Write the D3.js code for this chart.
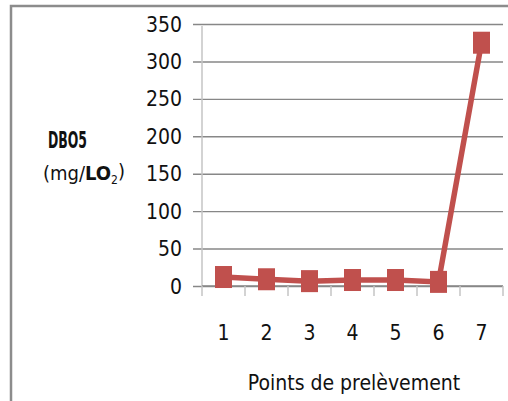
<!DOCTYPE html>
<html>
<head>
<meta charset="utf-8">
<script src="https://cdn.jsdelivr.net/npm/d3@7"></script>
<style>
  body { margin: 0; background: #fff; }
  svg { display: block; }
  text { font-family: "Liberation Sans Narrow", "DejaVu Sans Condensed", "Liberation Sans", sans-serif; fill: #111; }
</style>
</head>
<body>
<svg width="508" height="401"></svg>
<script>
// sampling points and BOD5 values
var points = ["1", "2", "3", "4", "5", "6", "7"];
var dbo5 = [12, 9, 6.5, 8, 8, 5.5, 325];
var yTicks = [0, 50, 100, 150, 200, 250, 300, 350];

var svg = d3.select("svg"),
    width = +svg.attr("width"),
    height = +svg.attr("height");

var x = d3.scaleBand().domain(points).range([202, 503]);
var y = d3.scaleLinear().domain([0, 350]).range([286, 24]);

// outer frame (only left and top edges are visible)
svg.append("path")
    .attr("d", "M11," + height + "V6H" + width)
    .attr("fill", "none")
    .attr("stroke", "#8c8c8c")
    .attr("stroke-width", 2.5);

// gridlines + y ticks
svg.append("g")
    .attr("transform", "translate(202,0)")
    .call(d3.axisLeft(y).tickValues(yTicks).tickSize(-(503 - 202)).tickFormat(""))
    .call(function(g) { g.select(".domain").remove(); })
    .call(function(g) {
        g.selectAll(".tick line")
            .attr("x1", -9)
            .attr("stroke", "#878787")
            .attr("stroke-width", 1.4);
    });

// y tick labels
svg.append("g")
    .selectAll("text")
    .data(yTicks)
    .enter().append("text")
    .attr("x", 182)
    .attr("y", function(d) { return y(d); })
    .attr("dy", "0.36em")
    .attr("text-anchor", "end")
    .style("font-size", "21px")
    .text(function(d) { return d; });

// y axis line
svg.append("line")
    .attr("x1", 202).attr("x2", 202)
    .attr("y1", y(350) + 2).attr("y2", y(0))
    .attr("stroke", "#c4c4c4")
    .attr("stroke-width", 1.5);

// x axis with ticks between categories
var xBounds = points.map(function(p) { return x(p); }).concat([x.range()[1]]);
svg.append("line")
    .attr("x1", 202).attr("x2", 503)
    .attr("y1", y(0)).attr("y2", y(0))
    .attr("stroke", "#878787")
    .attr("stroke-width", 1.5);
svg.append("g")
    .selectAll("line")
    .data(xBounds)
    .enter().append("line")
    .attr("x1", function(d) { return d; })
    .attr("x2", function(d) { return d; })
    .attr("y1", y(0))
    .attr("y2", y(0) + 10)
    .attr("stroke", "#c4c4c4")
    .attr("stroke-width", 1.5);

// x tick labels
svg.append("g")
    .selectAll("text")
    .data(points)
    .enter().append("text")
    .attr("x", function(d) { return x(d) + x.bandwidth() / 2; })
    .attr("y", 332)
    .attr("dy", "0.36em")
    .attr("text-anchor", "middle")
    .style("font-size", "21px")
    .text(function(d) { return d; });

// axis titles
svg.append("text")
    .attr("x", 354)
    .attr("y", 382)
    .attr("dy", "0.36em")
    .attr("text-anchor", "middle")
    .style("font-size", "21px")
    .text("Points de prelèvement");

svg.append("text")
    .attr("x", 48)
    .attr("y", 140)
    .attr("dy", "0.36em")
    .attr("textLength", 39)
    .attr("lengthAdjust", "spacingAndGlyphs")
    .style("font-size", "23px")
    .style("font-weight", "bold")
    .text("DBO5");

var unit = svg.append("text")
    .attr("x", 84)
    .attr("y", 173)
    .attr("dy", "0.36em")
    .attr("text-anchor", "middle")
    .style("font-size", "20px");
unit.append("tspan").text("(mg/");
unit.append("tspan").style("font-weight", "bold").text("LO");
unit.append("tspan").style("font-size", "12px").attr("dy", "0.3em").text("2");
unit.append("tspan").attr("dy", "-0.3em").text(")");

// series line + markers
var data = points.map(function(p, i) { return {p: p, v: dbo5[i]}; });
var cx = function(d) { return x(d.p) + x.bandwidth() / 2; };

svg.append("path")
    .datum(data)
    .attr("fill", "none")
    .attr("stroke", "#c0504d")
    .attr("stroke-width", 5.5)
    .attr("d", d3.line().x(cx).y(function(d) { return y(d.v); }));

svg.append("g")
    .selectAll("rect")
    .data(data)
    .enter().append("rect")
    .attr("x", function(d) { return cx(d) - 8.5; })
    .attr("y", function(d) { return y(d.v) - 11; })
    .attr("width", 17)
    .attr("height", 22)
    .attr("fill", "#c0504d");
</script>
</body>
</html>
